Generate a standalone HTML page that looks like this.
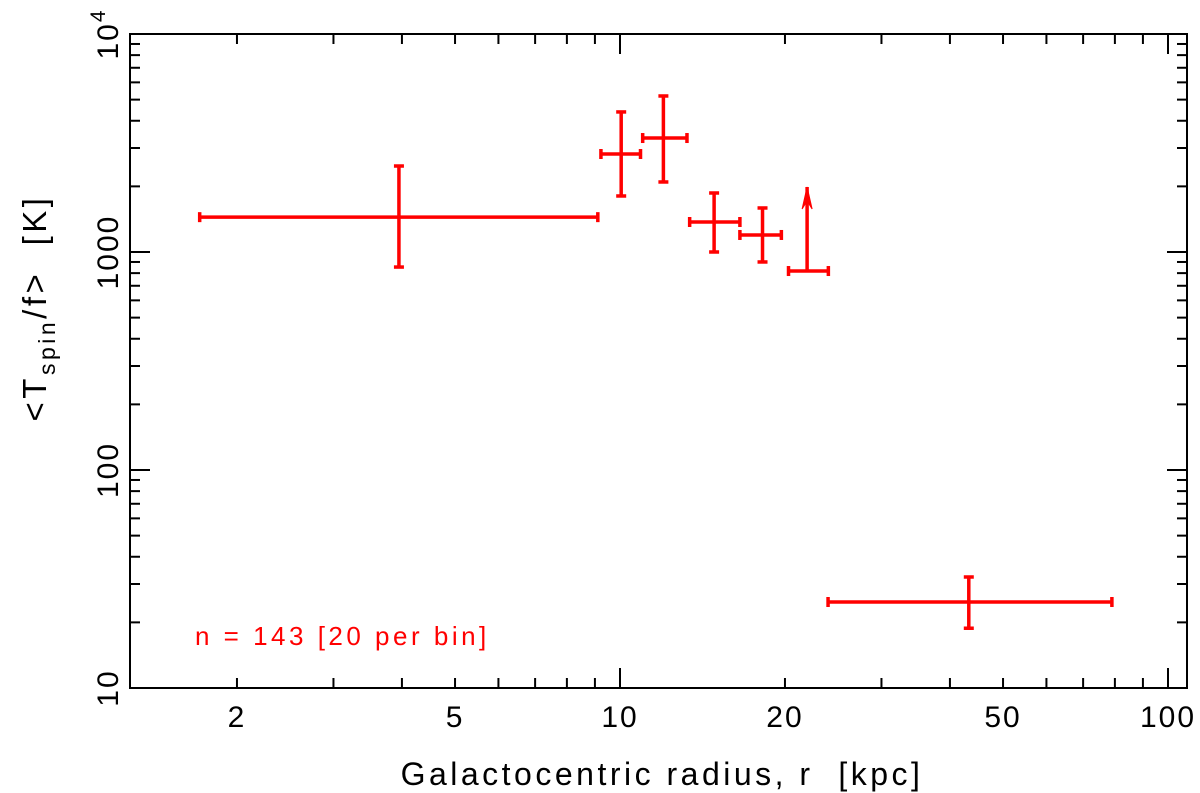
<!DOCTYPE html>
<html><head><meta charset="utf-8"><style>
body{margin:0;background:#fff;}
svg{display:block;font-family:"Liberation Sans",sans-serif;}
text{white-space:pre;}
</style></head><body>
<svg id="chart" width="1200" height="793"></svg>
<script>
const xCenters=[3.95,10.05,12.0,14.85,18.2,21.95,43.3];
const xLow=[1.71,9.23,11.0,13.4,16.55,20.3,23.97];
const xHigh=[9.11,10.9,13.25,16.55,19.7,24.0,79.0];
const yValues=[1445,2815,3333,1373,1197,818,24.8];
const yLow=[853,1807,2095,1000,900,818,18.8];
const yHigh=[2480,4390,5196,1865,1592,1987,32.3];
const isLimit=[false,false,false,false,false,true,false];
const xTicks=[2,5,10,20,50,100];
const yTicks=[10,100,1000,10000];

const NS="http://www.w3.org/2000/svg";
const svg=document.getElementById('chart');
const L=130,R=1187,T=34,B=688;
const X=r=>620+548*Math.log10(r/10);
const Y=v=>688-218*Math.log10(v/10);
function el(tag,attrs,parent){const e=document.createElementNS(NS,tag);for(const k in attrs)e.setAttribute(k,attrs[k]);(parent||svg).appendChild(e);return e;}

const frame=el('rect',{x:L,y:T,width:R-L,height:B-T,fill:'none',stroke:'#000','stroke-width':2});



const axes=el('g',{stroke:'#000','stroke-width':2});


for(let d=1;d<=100;d*=10){for(let m=1;m<10;m++){const v=d*m;const x=X(v);if(x<L||x>R)continue;const len=(m===1)?20:10;
el('line',{x1:x,y1:B,x2:x,y2:B-len},axes);el('line',{x1:x,y1:T,x2:x,y2:T+len},axes);}}
for(let d=10;d<10000;d*=10){for(let m=1;m<=10;m++){const v=d*m;const y=Y(v);const len=(m===1||m===10)?20:10;
el('line',{x1:L,y1:y,x2:L+len,y2:y},axes);el('line',{x1:R,y1:y,x2:R-len,y2:y},axes);}}

xTicks.forEach(t=>{const tx=el('text',{x:X(t),y:727,'font-size':30,'letter-spacing':2,'text-anchor':'middle',fill:'#000'});tx.textContent=t;

});
yTicks.forEach(t=>{const y=Y(t);const tx=el('text',{x:0,y:0,'font-size':30,'letter-spacing':2,'text-anchor':'middle',fill:'#000',transform:`translate(118,${y}) rotate(-90)`});
if(t===10000){tx.innerHTML='10<tspan dy="-13" font-size="21">4</tspan>';}else tx.textContent=t;

});

const xt=el('text',{x:662,y:785,'font-size':32,'letter-spacing':3.5,'text-anchor':'middle',fill:'#000'});
xt.textContent='Galactocentric radius, r  [kpc]';


const yt=el('text',{x:0,y:0,'font-size':33,'letter-spacing':3.5,'text-anchor':'middle',fill:'#000',transform:'translate(46,308) rotate(-90)'});
yt.innerHTML='&lt;T<tspan dy="9" font-size="23">spin</tspan><tspan dy="-9">/f&gt;  [K]</tspan>';



const g=el('g',{stroke:'#f00','stroke-width':3.5,fill:'none'});


for(let i=0;i<xCenters.length;i++){
 const p=el('g',{},g);
 
 
 const yc=Y(yValues[i]),x1=X(xLow[i]),x2=X(xHigh[i]),xc=X(xCenters[i]);
 el('line',{x1:x1,y1:yc,x2:x2,y2:yc},p);
 el('line',{x1:x1,y1:yc-5,x2:x1,y2:yc+5},p);
 el('line',{x1:x2,y1:yc-5,x2:x2,y2:yc+5},p);
 if(isLimit[i]){const yt2=Y(yHigh[i]);
  el('line',{x1:xc,y1:yc,x2:xc,y2:yt2},p);
  el('polygon',{points:`${xc},${yt2} ${xc-5},${yt2+22} ${xc},${yt2+14} ${xc+5},${yt2+22}`,fill:'#f00','stroke-width':1},p);
 } else {const ya=Y(yHigh[i]),yb=Y(yLow[i]);
  el('line',{x1:xc,y1:ya,x2:xc,y2:yb},p);
  el('line',{x1:xc-5,y1:ya,x2:xc+5,y2:ya},p);
  el('line',{x1:xc-5,y1:yb,x2:xc+5,y2:yb},p);}
}
const note=el('text',{x:195,y:645,'font-size':26,'letter-spacing':3.5,fill:'#f00'});
note.textContent='n = 143 [20 per bin]';


</script>
</body></html>
